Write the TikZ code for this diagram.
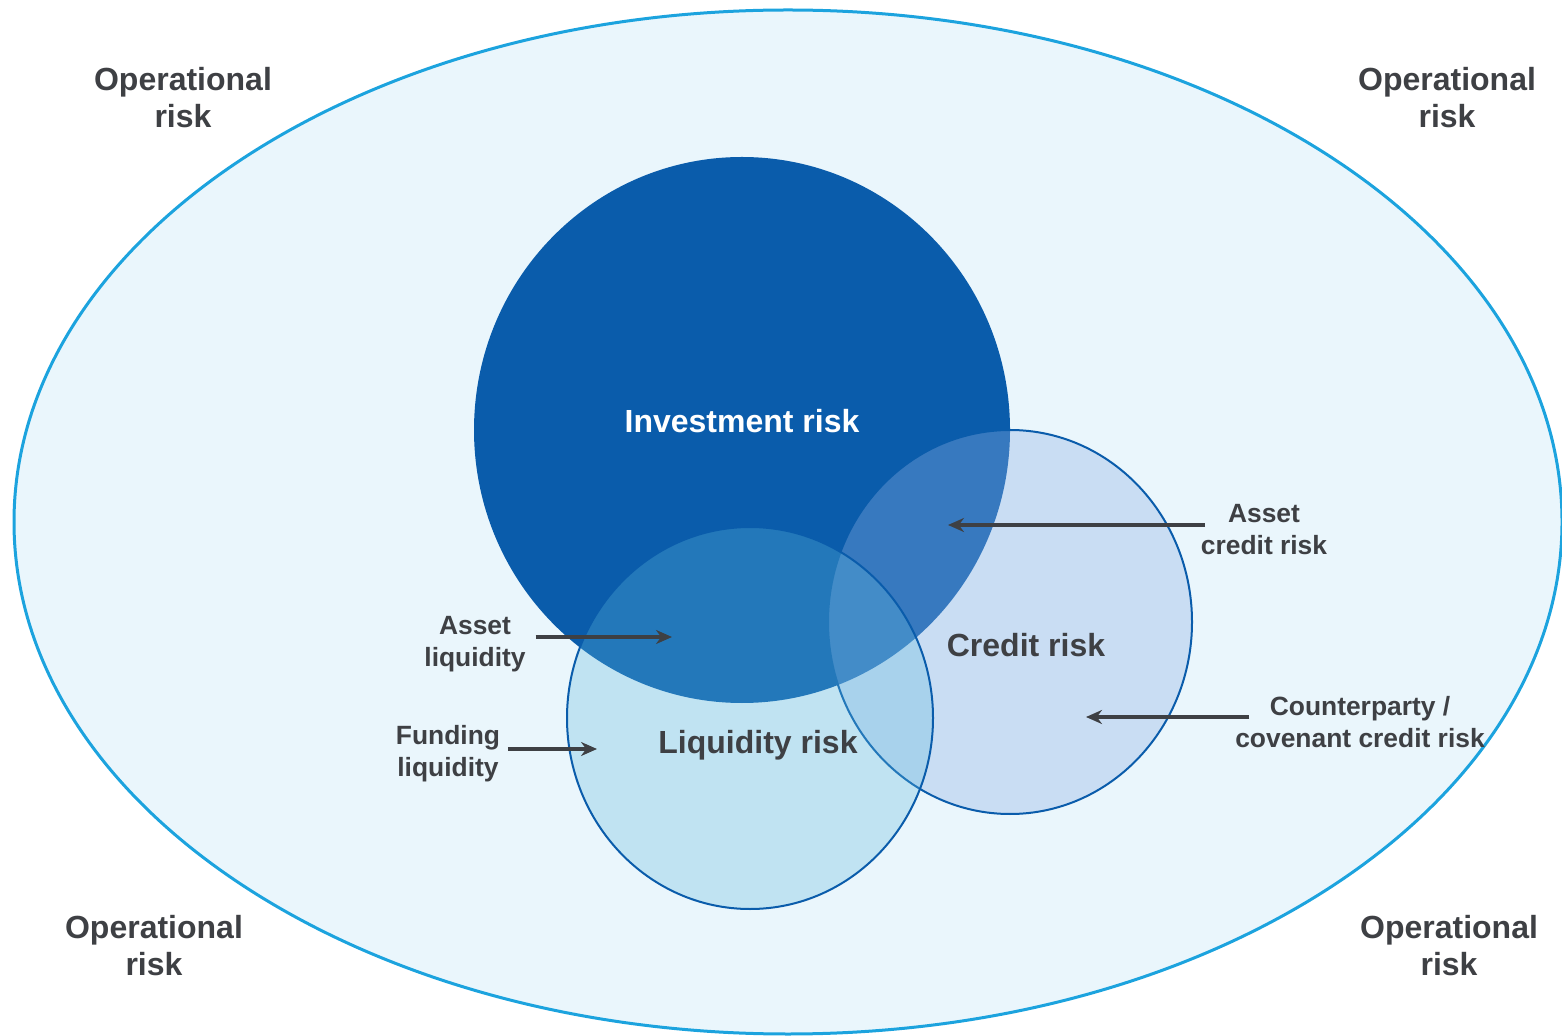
\documentclass[tikz,border=0pt]{standalone}
\usepackage{fontspec}
\setmainfont{Liberation Sans}
\usepackage{tikz}
\usetikzlibrary{arrows.meta}
\usepackage{xcolor}

\definecolor{opFill}{RGB}{234,246,252}
\definecolor{opLine}{RGB}{28,163,222}
\definecolor{invBlue}{RGB}{10,92,171}
\definecolor{credFill}{RGB}{140,177,229}
\definecolor{liqFill}{RGB}{95,185,222}
\definecolor{labelGrey}{RGB}{62,64,68}

\tikzset{
  bigLabel/.style={inner sep=0.75pt, align=center, text=labelGrey, font=\fontsize{16}{18.5}\selectfont\bfseries},
  smallLabel/.style={inner sep=0.75pt, align=center, text=labelGrey, font=\fontsize{13.2}{16}\selectfont\bfseries},
  pointer/.style={draw=labelGrey, line width=2pt, -{Stealth[length=8pt,width=7pt]}},
}

\begin{document}
\begin{tikzpicture}[x=0.5pt,y=0.5pt,yscale=-1,xscale=1]
        \useasboundingbox (0,0) rectangle (1562,1036);

        %Shape: Ellipse [operational]
        \draw [draw=opLine, fill=opFill, line width=1.5pt] (788,522) ellipse [x radius=774, y radius=512];
        %Shape: Circle [investment]
        \fill [invBlue] (742,430) ellipse [x radius=268, y radius=273];
        %Shape: Circle [credit]
        \draw [draw=invBlue, fill=credFill, fill opacity=0.35, line width=1pt] (1010,622) ellipse [x radius=182, y radius=192];
        %Shape: Circle [liquidity]
        \draw [draw=invBlue, fill=liqFill, fill opacity=0.3, line width=1pt] (750,718) ellipse [x radius=183, y radius=191];

        % Text Node
        \node [bigLabel] (opTL) at (183,98) {Operational\\risk};
        % Text Node
        \node [bigLabel] (opTR) at (1447,98) {Operational\\risk};
        % Text Node
        \node [bigLabel] (opBL) at (154,946) {Operational\\risk};
        % Text Node
        \node [bigLabel] (opBR) at (1449,946) {Operational\\risk};
        % Text Node
        \node [bigLabel, text=white] (invRisk) at (742,421) {Investment risk};
        % Text Node
        \node [bigLabel] (credRisk) at (1026,645) {Credit risk};
        % Text Node
        \node [bigLabel] (liqRisk) at (758,745) {Liquidity risk};

        % Text Node
        \node [smallLabel] (assetLiq) at (475,644) {Asset\\liquidity};
        % Text Node
        \node [smallLabel] (fundLiq) at (448,754) {Funding\\liquidity};
        % Text Node
        \node [smallLabel] (assetCred) at (1264,530) {Asset\\credit risk};
        % Text Node
        \node [smallLabel] (cptyCred) at (1360,722) {Counterparty /\\covenant credit risk};

        %Arrows
        \coordinate (assetLiqTip) at (672,637);
        \coordinate (fundLiqTip) at (597,749);
        \coordinate (assetCredTip) at (948,525);
        \coordinate (cptyCredTip) at (1086,717);
        \draw [pointer] ([xshift=4pt]assetLiq.east |- assetLiqTip) -- (assetLiqTip);
        \draw [pointer] ([xshift=3pt]fundLiq.east |- fundLiqTip) -- (fundLiqTip);
        \draw [pointer] ([xshift=3pt]assetCred.west |- assetCredTip) -- (assetCredTip);
        \draw [pointer] ([xshift=8pt]cptyCred.west |- cptyCredTip) -- (cptyCredTip);

\end{tikzpicture}
\end{document}
